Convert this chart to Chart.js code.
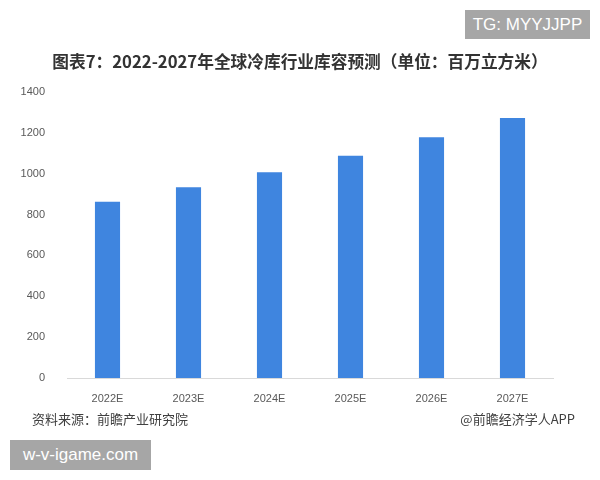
<!DOCTYPE html>
<html><head><meta charset="utf-8">
<script src="https://cdn.jsdelivr.net/npm/chart.js@4"></script>
<style>
html,body{margin:0;padding:0;background:#fff;}
#wrap{position:relative;width:600px;height:480px;overflow:hidden;}
canvas{position:absolute;left:0;top:0;}
.t{position:absolute;white-space:nowrap;font-family:"Noto Sans CJK SC","Noto Sans",sans-serif;}
</style></head><body>
<div id="wrap">
<canvas id="c" width="600" height="480"></canvas>
<div class="t" style="left:465px;top:10px;width:125px;height:29px;background:#a6a6a6;color:#fff;font-family:'Liberation Sans',Arial,sans-serif;font-size:17px;line-height:29px;text-align:center;">TG: MYYJJPP</div>
<div class="t" style="left:0;width:600px;top:49px;text-align:center;font-size:16.7px;line-height:24px;font-weight:bold;color:#333;">图表7：2022-2027年全球冷库行业库容预测（单位：百万立方米）</div>
<div class="t" style="left:32px;top:409px;font-size:13px;line-height:20px;color:#404040;">资料来源：前瞻产业研究院</div>
<div class="t" style="right:25px;top:409px;font-size:13px;line-height:20px;color:#404040;">@前瞻经济学人APP</div>
<div class="t" style="left:10px;top:440px;width:141px;height:30px;background:#a6a6a6;color:#fff;font-family:'Liberation Sans',Arial,sans-serif;font-size:17px;line-height:30px;text-align:center;">w-v-igame.com</div>
</div>
<script>
const categories = ["2022E","2023E","2024E","2025E","2026E","2027E"];
const capacity = [863, 934, 1007, 1088, 1178, 1273];
const yTicks = [0,200,400,600,800,1000,1200,1400];

new Chart(document.getElementById('c'), {
  type: 'bar',
  data: {
    labels: categories,
    datasets: [{
      data: capacity,
      backgroundColor: '#3F85DF',
      categoryPercentage: 1,
      barPercentage: 0.31
    }]
  },
  options: {
    responsive: false,
    animation: false,
    layout: { padding: { top: 92, right: 47, left: 0, bottom: 0 } },
    plugins: { legend: { display: false }, tooltip: { enabled: false } },
    scales: {
      x: {
        grid: { display: false },
        border: { color: '#d9d9d9', width: 1 },
        ticks: { color: '#595959', font: { family: "'Liberation Sans', Arial, sans-serif", size: 11 }, padding: 6 },
        afterFit: s => { s.height = 102; }
      },
      y: {
        min: 0, max: 1400,
        afterBuildTicks: s => { s.ticks = yTicks.map(v => ({ value: v })); },
        grid: { display: false },
        border: { display: false },
        ticks: { color: '#595959', font: { family: "'Liberation Sans', Arial, sans-serif", size: 11 }, padding: 14, callback: v => String(v) },
        afterFit: s => { s.width = 67; }
      }
    }
  }
});
</script>
</body></html>
